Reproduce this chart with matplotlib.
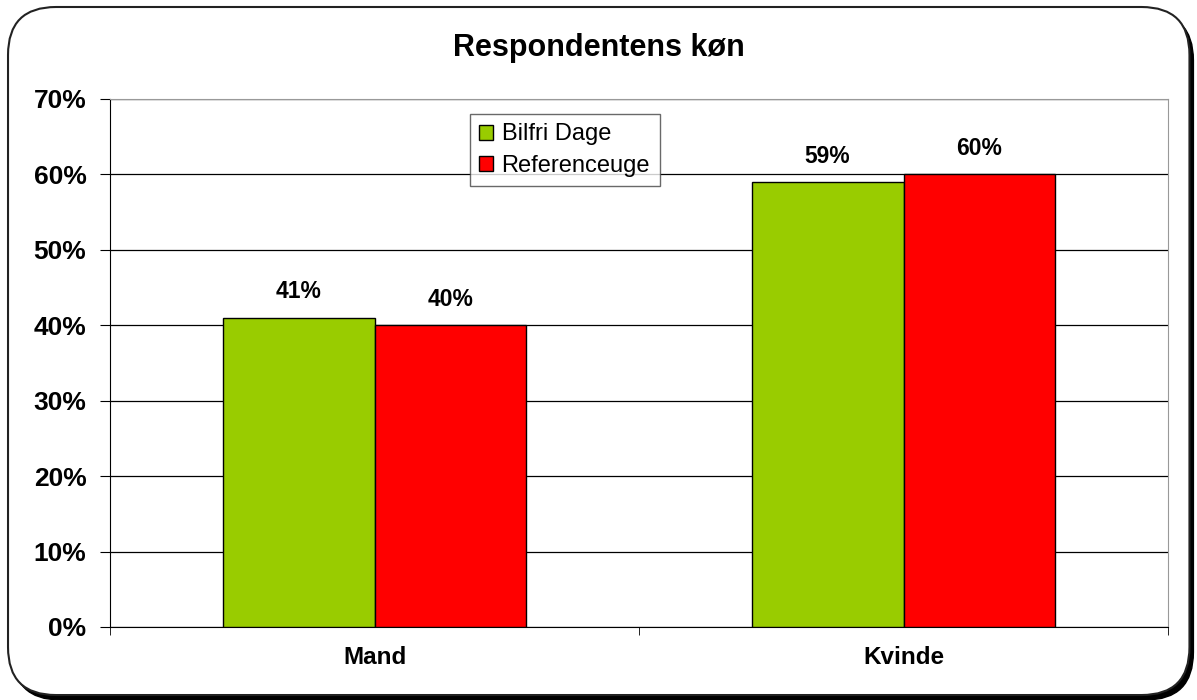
import matplotlib
matplotlib.use('Agg')
import matplotlib.pyplot as plt
from matplotlib.patches import FancyBboxPatch
import numpy as np

plt.rcParams['font.family'] = ['Liberation Sans', 'DejaVu Sans']

# data
kategorier = ['Mand', 'Kvinde']
bilfri = [41, 59]
reference = [40, 60]
serier = ['Bilfri Dage', 'Referenceuge']
farver = ['#99CC00', '#FF0000']
yticks = [0, 10, 20, 30, 40, 50, 60, 70]

fig = plt.figure(figsize=(11.97, 7.0), dpi=100)

# afrundet ramme med skygge
skygge = FancyBboxPatch((0.0105, 0.0), 0.9865, 0.982, boxstyle='round,pad=0,rounding_size=0.04',
                        transform=fig.transFigure, facecolor='black', edgecolor='black',
                        mutation_aspect=1.71, zorder=0)
ramme = FancyBboxPatch((0.0067, 0.0071), 0.987, 0.9829, boxstyle='round,pad=0,rounding_size=0.04',
                       transform=fig.transFigure, facecolor='white', edgecolor='#222222',
                       linewidth=1.5, mutation_aspect=1.71, zorder=1)
fig.patches.extend([skygge, ramme])

ax = fig.add_axes([0.0919, 0.1043, 0.8839, 0.7543])
ax.set_zorder(2)

x = np.arange(len(kategorier))
b = 0.287
bars1 = ax.bar(x - b / 2, bilfri, b, color=farver[0], edgecolor='black', linewidth=1, label=serier[0], zorder=3)
bars2 = ax.bar(x + b / 2, reference, b, color=farver[1], edgecolor='black', linewidth=1, label=serier[1], zorder=3)

for bars in (bars1, bars2):
    for r in bars:
        ax.text(r.get_x() + r.get_width() / 2, r.get_height() + 1.9, f'{r.get_height():.0f}%',
                ha='center', va='bottom', fontsize=16.5, fontweight='bold')

ax.set_xlim(-0.5, 1.5)
ax.set_ylim(0, 70)
ax.set_yticks(yticks)
ax.set_yticklabels([f'{v}%' for v in yticks], fontsize=19, fontweight='bold')
ax.yaxis.grid(True, color='black', linewidth=0.9)
ax.set_axisbelow(True)

ax.set_xticks(x)
ax.set_xticklabels(kategorier, fontsize=17.5, fontweight='bold')
ax.tick_params(axis='x', length=0, pad=14)
ax.set_xticks([-0.5, 0.5, 1.5], minor=True)
ax.tick_params(axis='x', which='minor', length=6, direction='out')
ax.tick_params(axis='y', length=7, direction='out', pad=10)

ax.spines['top'].set_color('#999999')
ax.spines['right'].set_color('#999999')
ax.spines['left'].set_color('black')
ax.spines['bottom'].set_color('black')

leg = ax.legend(loc='upper left', bbox_to_anchor=(0.340, 0.9716), borderaxespad=0,
                fontsize=17, frameon=True, fancybox=False, handlelength=0.6, handleheight=0.6,
                handletextpad=0.35, borderpad=0.4, labelspacing=0.4)
leg.get_frame().set_edgecolor('#444444')
leg.get_frame().set_linewidth(1)
leg.set_zorder(5)

fig.text(0.5, 0.931, 'Respondentens køn', ha='center', va='center', fontsize=22, fontweight='bold')

fig.savefig('out.png', dpi=100)
